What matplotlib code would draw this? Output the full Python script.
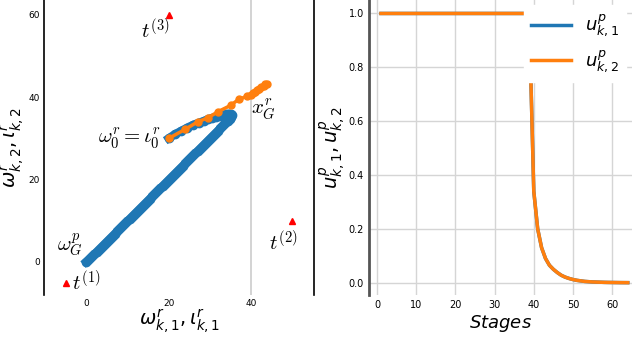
import numpy as np
import matplotlib.pyplot as plt

# targets (red triangles)
target_x = [-5, 50, 20]
target_y = [-5, 10, 60]

# trajectory of omega (blue) and iota (orange)
omega_x = [20, 21.5, 23, 24.5, 26, 27.3, 28.5, 29.5, 30.5, 31.5, 32.5, 33.3, 34, 34.6, 35, 35.3, 35.2,
           34.8, 34.4, 34, 33.5, 33, 32.5, 32, 31.5, 31, 30.5, 30, 29.5, 29, 28.5, 28, 27.5, 27, 26.5,
           26, 25.5, 25, 24.5, 24, 23.5, 23, 22.5, 22, 21.5, 21, 20.5, 20, 19.5, 19, 18.5, 18, 17.5,
           17, 16.5, 16, 15.5, 15, 14.5, 14, 13.5, 13, 12.5, 12, 11.5, 11, 10.5, 10, 9.5, 9, 8.5, 8,
           7.5, 7, 6.5, 6, 5.5, 5, 4.5, 4, 3.5, 3, 2.5, 2, 1.5, 1, 0.5, 0]
omega_y = [30, 31, 31.8, 32.6, 33.3, 33.8, 34.2, 34.6, 34.9, 35.2, 35.5, 35.7, 35.9, 36, 35.9, 35.6,
           35.2, 34.7, 34.3, 33.9, 33.4, 32.9, 32.4, 31.9, 31.4, 30.9, 30.4, 29.9, 29.4, 28.9, 28.4,
           27.9, 27.4, 26.9, 26.4, 25.9, 25.4, 24.9, 24.4, 23.9, 23.4, 22.9, 22.4, 21.9, 21.4, 20.9,
           20.4, 19.9, 19.4, 18.9, 18.4, 17.9, 17.4, 16.9, 16.4, 15.9, 15.4, 14.9, 14.4, 13.9, 13.4,
           12.9, 12.4, 11.9, 11.4, 10.9, 10.4, 9.9, 9.4, 8.9, 8.4, 7.9, 7.4, 6.9, 6.4, 5.9, 5.4, 4.9,
           4.4, 3.9, 3.4, 2.9, 2.4, 1.9, 1.4, 0.9, 0.4, 0]
iota_x = [20, 24, 27, 29.5, 32, 35, 37, 39, 40, 40.5, 41, 41.5, 42, 42.5, 43, 43.4, 43.8]
iota_y = [30, 32.2, 34, 35, 36.5, 38, 39.5, 40.2, 40.5, 40.9, 41.3, 41.7, 42.1, 42.5, 42.8, 43.1, 43.3]

# control inputs per stage
stages = np.arange(1, 65)
u_drop = [0.9, 0.34, 0.2, 0.13, 0.09, 0.065, 0.05, 0.038, 0.028, 0.021, 0.016, 0.012, 0.009,
          0.007, 0.005, 0.004, 0.003, 0.0025, 0.002, 0.0015, 0.0012, 0.001, 0.0008, 0.0006,
          0.0005, 0.0004]
u1 = [1.0] * 38 + u_drop
u2 = [1.0] * 38 + u_drop

blue = '#1f77b4'
orange = '#ff7f0e'

fig = plt.figure(figsize=(6.4, 3.37), dpi=100)

# left panel
ax = fig.add_axes([0.069, 0.125, 0.422, 0.875])
ax.axvline(40, color='#cccccc', lw=1.2, zorder=0)
ax.plot(omega_x, omega_y, '-o', color=blue, lw=6, ms=6)
ax.plot(iota_x, iota_y, '-o', color=orange, lw=2.5, ms=5)
ax.plot(target_x, target_y, '^', color='red', ms=5)
ax.set_xlim(-10.2, 55.3)
ax.set_ylim(-8, 63.6)
ax.set_xticks([0, 20, 40])
ax.set_yticks([0, 20, 40, 60])
ax.tick_params(length=0, labelsize=6.5, pad=3)
ax.spines['top'].set_visible(False)
ax.spines['bottom'].set_visible(False)
for s in ['left', 'right']:
    ax.spines[s].set_color('black')
    ax.spines[s].set_linewidth(1.2)
ax.set_xlabel(r'$\omega^r_{k,1}, \iota^r_{k,1}$', fontsize=14, labelpad=0)
ax.set_ylabel(r'$\omega^r_{k,2}, \iota^r_{k,2}$', fontsize=14, labelpad=1)
cm = dict(math_fontfamily='cm', fontsize=15)
ax.text(16.7, 56.3, r'$t^{(3)}$', ha='center', va='center', **cm)
ax.text(47.8, 4.9, r'$t^{(2)}$', ha='center', va='center', **cm)
ax.text(-3.4, -4.9, r'$t^{(1)}$', ha='left', va='center', **cm)
ax.text(-3.9, 4.1, r'$\omega_G^p$', ha='center', va='center', **cm)
ax.text(18, 30, r'$\omega_0^r = \iota_0^r$', ha='right', va='center', **cm)
ax.text(43, 37, r'$x_G^r$', ha='center', va='center', **cm)

# right panel
ax2 = fig.add_axes([0.577, 0.125, 0.41, 0.875])
ax2.plot(stages, u1, color=blue, lw=2.5, label=r'$u^p_{k,1}$')
ax2.plot(stages, u2, color=orange, lw=2.5, label=r'$u^p_{k,2}$')
ax2.set_xlim(-2, 65)
ax2.set_ylim(-0.045, 1.05)
ax2.set_xticks(range(0, 61, 10))
ax2.set_yticks([0.0, 0.2, 0.4, 0.6, 0.8, 1.0])
ax2.grid(True, color='#d5d5d5', lw=1)
ax2.set_axisbelow(True)
ax2.tick_params(length=0, labelsize=7, pad=4)
for s in ['top', 'right', 'bottom']:
    ax2.spines[s].set_visible(False)
ax2.spines['left'].set_color('#555555')
ax2.spines['left'].set_linewidth(2)
ax2.set_xlabel(r'$Stages$', fontsize=13, labelpad=2)
ax2.set_ylabel(r'$u^p_{k,1}, u^p_{k,2}$', fontsize=14, labelpad=0)
leg = ax2.legend(loc='upper right', fontsize=13, frameon=True, framealpha=1,
                 edgecolor='white', borderaxespad=0.3, handlelength=2.2)

fig.savefig('out.png', dpi=100)
